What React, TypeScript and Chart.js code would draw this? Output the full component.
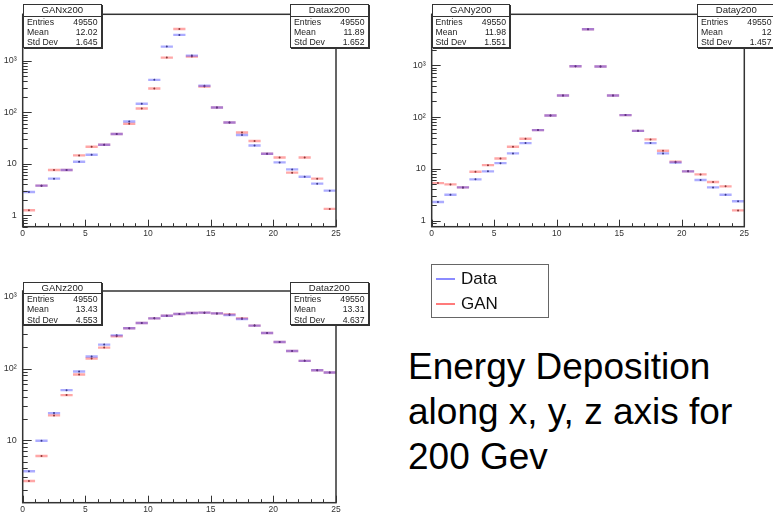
import React, { useEffect, useRef } from 'react';
import { Chart, registerables } from 'chart.js';
Chart.register(...registerables);

// ---------- data ----------
const binCenters = [0.5, 1.5, 2.5, 3.5, 4.5, 5.5, 6.5, 7.5, 8.5, 9.5, 10.5, 11.5, 12.5, 13.5, 14.5, 15.5, 16.5, 17.5, 18.5, 19.5, 20.5, 21.5, 22.5, 23.5, 24.5];

const dataX = [2.83, 3.75, 5.13, 7.55, 10.9, 14.9, 23.3, 37.6, 65.9, 145, 423, 1866, 3150, 1250, 324, 123, 63, 36, 22.6, 15.6, 10.6, 7.76, 5.6, 4.1, 3.0];
const ganX = [1.25, 3.75, 7.55, 7.55, 14.5, 21.3, 23.3, 37.6, 59.4, 118, 287, 1143, 4110, 1195, 314, 123, 63, 40.4, 27.5, 15.6, 13.2, 6.7, 13.2, 5.13, 1.33];

const dataY = [2.29, 3.17, 4.39, 6.28, 8.95, 12.9, 19.9, 31.4, 56, 107, 261, 956, 4940, 944, 261, 109, 54.2, 31.4, 19.9, 13.3, 8.95, 6.08, 4.39, 3.17, 2.37];
const ganY = [5.32, 5.02, 4.39, 8.81, 11.8, 15.9, 26.7, 38, 56, 107, 261, 956, 4940, 944, 261, 109, 54.2, 37, 22.3, 13.7, 8.95, 7.83, 5.57, 4.6, 1.58];

const dataZ = [3.66, 9.77, 23.8, 49.8, 90.8, 147, 216, 291, 365, 432, 503, 548, 578, 596, 604, 590, 560, 492, 398, 314, 235, 176, 128, 94.6, 87.9];
const ganZ = [2.68, 5.98, 22.1, 42.5, 82.5, 138, 196, 282, 365, 432, 503, 548, 578, 596, 604, 590, 572, 503, 398, 314, 235, 176, 128, 94.6, 87.9];

const xTickValues = [0, 5, 10, 15, 20, 25];
const yTickValues = [1, 10, 100, 1000];
const yTickLabels = ['1', '10', '10²', '10³'];

const statTitles = ['GANx200', 'Datax200', 'GANy200', 'Datay200', 'GANz200', 'Dataz200'];
const statEntries = ['49550', '49550', '49550', '49550', '49550', '49550'];
const statMeans = ['12.02', '11.89', '11.98', '12', '13.43', '13.31'];
const statStdDevs = ['1.645', '1.652', '1.551', '1.457', '4.553', '4.637'];

const legendLabels = ['Data', 'GAN'];
const captionLines = ['Energy Deposition', 'along x, y, z axis for', '200 Gev'];

// ---------- style ----------
const FONT = '"Liberation Sans", Arial, Helvetica, sans-serif';
const BLUE = 'rgba(70, 70, 255, 0.45)';
const RED = 'rgba(255, 60, 60, 0.45)';
const LEG_COLORS = ['rgb(110, 110, 255)', 'rgb(255, 90, 90)'];

const rootFrame = {
  id: 'rootFrame',
  afterDatasetsDraw(chart: any) {
    const { ctx, chartArea: a, scales } = chart;
    const xs = scales.x;
    const ys = scales.y;
    ctx.save();
    ctx.strokeStyle = '#333';
    ctx.lineWidth = 1;
    for (let v = Math.ceil(xs.min); v <= xs.max; v++) {
      const px = Math.round(xs.getPixelForValue(v)) + 0.5;
      const len = v % 5 === 0 ? 7 : 3.5;
      ctx.beginPath();
      ctx.moveTo(px, a.bottom);
      ctx.lineTo(px, a.bottom - len);
      ctx.stroke();
    }
    const lo = Math.floor(Math.log10(ys.min));
    const hi = Math.ceil(Math.log10(ys.max));
    for (let e = lo; e <= hi; e++) {
      for (let m = 1; m < 10; m++) {
        const v = m * Math.pow(10, e);
        if (v < ys.min || v > ys.max) continue;
        const py = Math.round(ys.getPixelForValue(v)) + 0.5;
        const len = m === 1 ? 9 : 5;
        ctx.beginPath();
        ctx.moveTo(a.left, py);
        ctx.lineTo(a.left + len, py);
        ctx.stroke();
      }
    }
    ctx.lineWidth = 1.5;
    ctx.strokeStyle = '#333';
    ctx.strokeRect(a.left, a.top, a.right - a.left, a.bottom - a.top);
    ctx.restore();
  },
};

type PanelProps = {
  left: number; top: number; width: number; height: number;
  pad: { left: number; right: number; top: number; bottom: number };
  yAxisW: number; xAxisH: number; yMin: number; yMax: number;
  data: number[]; gan: number[];
};

function Panel(p: PanelProps) {
  const ref = useRef<HTMLCanvasElement>(null);
  useEffect(() => {
    if (!ref.current) return;
    const pts = (arr: number[]) => binCenters.map((x, i) => ({ x, y: arr[i] }));
    const lineSet = (label: string, arr: number[], color: string) => ({
      label,
      data: pts(arr),
      showLine: false,
      pointStyle: 'line',
      pointRadius: 6.1,
      pointHoverRadius: 6.1,
      borderColor: color,
      backgroundColor: color,
      pointBorderColor: color,
      pointBorderWidth: 2.4,
    });
    const dotSet = (label: string, arr: number[]) => ({
      label,
      data: pts(arr),
      showLine: false,
      pointStyle: 'circle',
      pointRadius: 1,
      pointHoverRadius: 1,
      pointBackgroundColor: 'rgba(0,0,0,0.8)',
      pointBorderWidth: 0,
    });
    const chart = new Chart(ref.current, {
      type: 'scatter',
      data: {
        datasets: [
          lineSet('Data', p.data, BLUE),
          lineSet('GAN', p.gan, RED),
          dotSet('Data centre', p.data),
          dotSet('GAN centre', p.gan),
        ] as any,
      },
      options: {
        animation: false,
        responsive: false,
        maintainAspectRatio: false,
        events: [],
        layout: { padding: p.pad },
        plugins: { legend: { display: false }, tooltip: { enabled: false } },
        scales: {
          x: {
            type: 'linear',
            min: 0,
            max: 25,
            grid: { display: false, drawTicks: false },
            border: { display: false },
            ticks: {
              font: { family: FONT, size: 8.5 },
              color: '#333',
              padding: 2,
              maxRotation: 0,
              autoSkip: false,
              callback: (v: any) => String(v),
            },
            afterBuildTicks: (s: any) => {
              s.ticks = xTickValues.map((v) => ({ value: v }));
            },
            afterFit: (s: any) => {
              s.height = p.xAxisH;
            },
          },
          y: {
            type: 'logarithmic',
            min: p.yMin,
            max: p.yMax,
            grid: { display: false, drawTicks: false },
            border: { display: false },
            ticks: {
              font: { family: FONT, size: 9 },
              color: '#333',
              padding: 6,
              autoSkip: false,
              callback: (v: any) => {
                const i = yTickValues.indexOf(Number(v));
                return i >= 0 ? yTickLabels[i] : '';
              },
            },
            afterBuildTicks: (s: any) => {
              s.ticks = yTickValues.filter((v) => v >= s.min && v <= s.max).map((v) => ({ value: v }));
            },
            afterFit: (s: any) => {
              s.width = p.yAxisW;
            },
          },
        },
      } as any,
      plugins: [rootFrame],
    });
    return () => chart.destroy();
  }, []);
  return (
    <canvas
      ref={ref}
      width={p.width}
      height={p.height}
      style={{ position: 'absolute', left: p.left, top: p.top, width: p.width, height: p.height, display: 'block' }}
    />
  );
}

function StatBox({ left, top, idx }: { left: number; top: number; idx: number }) {
  const row: React.CSSProperties = {
    height: 10.3,
    lineHeight: '10.3px',
    fontSize: 8.7,
    display: 'flex',
    justifyContent: 'space-between',
    padding: '0 3px 0 3px',
    whiteSpace: 'nowrap',
  };
  return (
    <div
      style={{
        position: 'absolute',
        left,
        top,
        width: 78.5,
        height: 43.5,
        boxSizing: 'border-box',
        border: '1px solid #333',
        boxShadow: '1px 1px 0 #333',
        background: '#fff',
        fontFamily: FONT,
        color: '#222',
        overflow: 'hidden',
      }}
    >
      <div style={{ height: 10.5, lineHeight: '10.5px', fontSize: 9.6, textAlign: 'center', borderBottom: '1px solid #333' }}>
        {statTitles[idx]}
      </div>
      <div style={row}><span>Entries</span><span>{statEntries[idx]}</span></div>
      <div style={row}><span>Mean</span><span>{statMeans[idx]}</span></div>
      <div style={row}><span>Std Dev</span><span>{statStdDevs[idx]}</span></div>
    </div>
  );
}

export default function App() {
  return (
    <div style={{ position: 'absolute', left: 0, top: 0, width: 773, height: 516, overflow: 'hidden', background: '#fff' }}>
      <Panel left={0} top={0} width={390} height={250}
        pad={{ left: 0, right: 54, top: 14.3, bottom: 8.3 }} yAxisW={22.7} xAxisH={15}
        yMin={0.611} yMax={7900} data={dataX} gan={ganX} />
      <Panel left={400} top={0} width={373} height={250}
        pad={{ left: 0, right: 28.7, top: 14.3, bottom: 8.3 }} yAxisW={31.7} xAxisH={15}
        yMin={0.766} yMax={9600} data={dataY} gan={ganY} />
      <Panel left={0} top={260} width={390} height={256}
        pad={{ left: 0, right: 54, top: 31, bottom: 0 }} yAxisW={22.7} xAxisH={13.3}
        yMin={1.33} yMax={1213} data={dataZ} gan={ganZ} />

      <StatBox left={23} top={4} idx={0} />
      <StatBox left={290} top={4} idx={1} />
      <StatBox left={431.5} top={4} idx={2} />
      <StatBox left={697} top={4} idx={3} />
      <StatBox left={23} top={281.5} idx={4} />
      <StatBox left={290} top={281.5} idx={5} />

      <div
        style={{
          position: 'absolute', left: 431, top: 264, width: 118, height: 54, boxSizing: 'border-box',
          border: '1px solid #666', background: '#fff', fontFamily: FONT, color: '#111',
        }}
      >
        {legendLabels.map((lab, i) => (
          <React.Fragment key={lab}>
            <div style={{ position: 'absolute', left: 4, top: 13 + i * 25, width: 19, height: 2, background: LEG_COLORS[i], opacity: 0.8 }} />
            <div style={{ position: 'absolute', left: 29, top: 1 + i * 25, height: 25, lineHeight: '25px', fontSize: 17 }}>
              {lab}
            </div>
          </React.Fragment>
        ))}
      </div>

      <div style={{ position: 'absolute', left: 408, top: 344, fontFamily: FONT, fontSize: 37, lineHeight: '45px', color: '#000', whiteSpace: 'nowrap' }}>
        {captionLines.map((l) => (
          <div key={l}>{l}</div>
        ))}
      </div>
    </div>
  );
}
